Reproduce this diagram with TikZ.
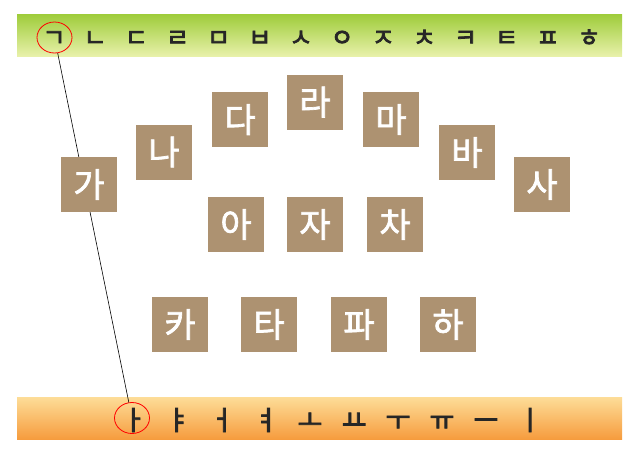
\documentclass[tikz,border=0pt]{standalone}
\usepackage{fontspec}
\newfontfamily\krfont{Noto Sans CJK KR}[FakeBold=2]
\newfontfamily\jamofont{Noto Sans CJK KR}[FakeBold=3]
\usepackage{xcolor}
\usetikzlibrary{shapes}
\definecolor{tile}{RGB}{173,146,113}
\definecolor{leafdark}{RGB}{158,204,58}
\definecolor{leaflight}{RGB}{232,241,170}
\definecolor{peachlight}{RGB}{253,221,152}
\definecolor{peachdark}{RGB}{246,156,62}
\tikzstyle{syll} = [rectangle, fill=tile, text=white, inner sep=0pt, minimum width=56pt, minimum height=55pt, font=\krfont\fontsize{34}{34}\selectfont]
\tikzstyle{cons} = [anchor=base, inner sep=0pt, text=black!85, font=\jamofont\fontsize{25}{25}\selectfont]
\tikzstyle{vow} = [anchor=base, inner sep=0pt, text=black!85, font=\jamofont\fontsize{27}{27}\selectfont]
\tikzstyle{ring} = [ellipse, draw=red, line width=0.8pt, inner sep=0pt, minimum width=35pt, minimum height=31pt]
\tikzstyle{line} = [draw, line width=0.6pt]

\begin{document}
\begin{tikzpicture}[x=1pt, y=-1pt]
\useasboundingbox (0,0) rectangle (632,451);
% bars
\shade [top color=leafdark, bottom color=leaflight] (17,14) rectangle (622,56);
\shade [top color=peachlight, bottom color=peachdark] (17,397) rectangle (622,439);
% consonants
\node [cons] (c-g) at (54,46.5) {ㄱ};
\node [cons] (c-n) at (95.2,46.5) {ㄴ};
\node [cons] (c-d) at (136.3,46.5) {ㄷ};
\node [cons] (c-r) at (177.5,46.5) {ㄹ};
\node [cons] (c-m) at (218.6,46.5) {ㅁ};
\node [cons] (c-b) at (259.8,46.5) {ㅂ};
\node [cons] (c-s) at (300.9,46.5) {ㅅ};
\node [cons] (c-ng) at (342.1,46.5) {ㅇ};
\node [cons] (c-j) at (383.2,46.5) {ㅈ};
\node [cons] (c-ch) at (424.4,46.5) {ㅊ};
\node [cons] (c-k) at (465.5,46.5) {ㅋ};
\node [cons] (c-t) at (506.7,46.5) {ㅌ};
\node [cons] (c-p) at (547.8,46.5) {ㅍ};
\node [cons] (c-h) at (589,46.5) {ㅎ};
% vowels
\node [vow] (v-a) at (134,430) {ㅏ};
\node [vow] (v-ya) at (178,430) {ㅑ};
\node [vow] (v-eo) at (222,430) {ㅓ};
\node [vow] (v-yeo) at (266,430) {ㅕ};
\node [vow] (v-o) at (310,430) {ㅗ};
\node [vow] (v-yo) at (354,430) {ㅛ};
\node [vow] (v-u) at (398,430) {ㅜ};
\node [vow] (v-yu) at (442,430) {ㅠ};
\node [vow] (v-eu) at (486,430) {ㅡ};
\node [vow] (v-i) at (530,430) {ㅣ};
% rings and link
\node [ring] (ring-g) at (54.5,37.5) {};
\node [ring] (ring-a) at (132,418) {};
\path [line] (ring-g) -- (ring-a);
% syllables
\node [syll] (s-ga) at (89,184.5) {가};
\node [syll] (s-na) at (164,152) {나};
\node [syll] (s-da) at (240,119.5) {다};
\node [syll] (s-ra) at (315,102) {라};
\node [syll] (s-ma) at (391,119.5) {마};
\node [syll] (s-ba) at (467,152.5) {바};
\node [syll] (s-sa) at (542,184.5) {사};
\node [syll] (s-a) at (236,224.5) {아};
\node [syll] (s-ja) at (315,224.5) {자};
\node [syll] (s-cha) at (395,224.5) {차};
\node [syll] (s-ka) at (180,324.5) {카};
\node [syll] (s-ta) at (269,324.5) {타};
\node [syll] (s-pa) at (359,324.5) {파};
\node [syll] (s-ha) at (448,324.5) {하};
\end{tikzpicture}
\end{document}
